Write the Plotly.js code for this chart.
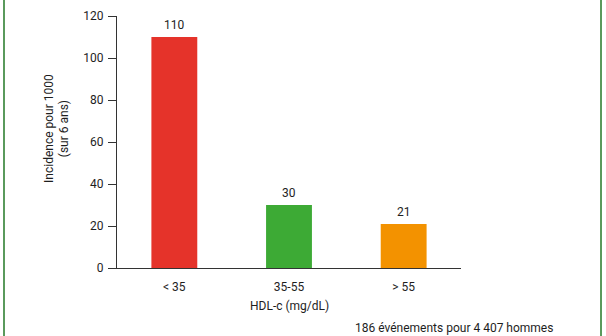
<!DOCTYPE html>
<html>
<head>
<meta charset="utf-8">
<script src="https://cdn.plot.ly/plotly-3.0.1.min.js"></script>
<style>
  html, body { margin: 0; padding: 0; background: #fff; }
  #wrap { position: relative; width: 606px; height: 336px; overflow: hidden; }
  #chart { position: absolute; left: 0; top: 0; width: 606px; height: 336px; }
  .bl { position: absolute; top: 0; width: 2px; height: 336px; background: #5a9a5c; }
</style>
</head>
<body>
<div id="wrap">
  <div id="chart"></div>
  <div class="bl" style="left:3px"></div>
  <div class="bl" style="left:600px"></div>
</div>
<script>
const categories = ["< 35", "35-55", "> 55"];
const incidence = [110, 30, 21];
const barColors = ["#E5332A", "#3DAA35", "#F39200"];
const yTickVals = [0, 20, 40, 60, 80, 100, 120];

const FONT = "Roboto, 'DejaVu Sans', sans-serif";
const TXT = "#1e1e1e";

const trace = {
  type: "bar",
  x: categories,
  y: incidence,
  marker: { color: barColors, line: { width: 0 } },
  hoverinfo: "none"
};

const valueLabels = categories.map((c, i) => ({
  x: c, y: incidence[i], xref: "x", yref: "y",
  text: String(incidence[i]), showarrow: false,
  yanchor: "bottom", yshift: 3,
  font: { family: FONT, size: 12, color: TXT }
}));

const layout = {
  width: 606, height: 336,
  margin: { l: 116.5, r: 144.5, t: 16, b: 68, pad: 0 },
  paper_bgcolor: "#ffffff", plot_bgcolor: "#ffffff",
  showlegend: false,
  bargap: 0.6,
  font: { family: FONT, size: 12, color: TXT },
  xaxis: {
    type: "category",
    range: [-0.5, 2.5],
    showline: true, linecolor: "#333333", linewidth: 1,
    ticks: "", showgrid: false, zeroline: false,
    tickfont: { family: FONT, size: 12, color: TXT },
    ticklabelstandoff: 8
  },
  yaxis: {
    range: [0, 120],
    tickvals: yTickVals,
    showline: true, linecolor: "#333333", linewidth: 1,
    ticks: "outside", ticklen: 8, tickcolor: "#333333", tickwidth: 1,
    showgrid: false, zeroline: false,
    tickfont: { family: FONT, size: 12, color: TXT },
    ticklabelstandoff: 2
  },
  annotations: valueLabels.concat([
    {
      xref: "paper", yref: "paper", x: -0.175, y: 0.555,
      text: "Incidence pour 1000<br>(sur 6 ans)",
      textangle: -90, showarrow: false,
      xanchor: "center", yanchor: "middle",
      font: { family: FONT, size: 12, color: TXT }
    },
    {
      xref: "paper", yref: "paper", x: 0.5, y: -0.15,
      text: "HDL-c (mg/dL)", showarrow: false,
      xanchor: "center", yanchor: "middle",
      font: { family: FONT, size: 12, color: TXT }
    },
    {
      xref: "paper", yref: "paper", x: 0.98, y: -0.24,
      text: "186 événements pour 4 407 hommes", showarrow: false,
      xanchor: "center", yanchor: "middle",
      font: { family: FONT, size: 12, color: TXT }
    }
  ])
};

Plotly.newPlot("chart", [trace], layout, { displayModeBar: false, staticPlot: true });
</script>
</body>
</html>
